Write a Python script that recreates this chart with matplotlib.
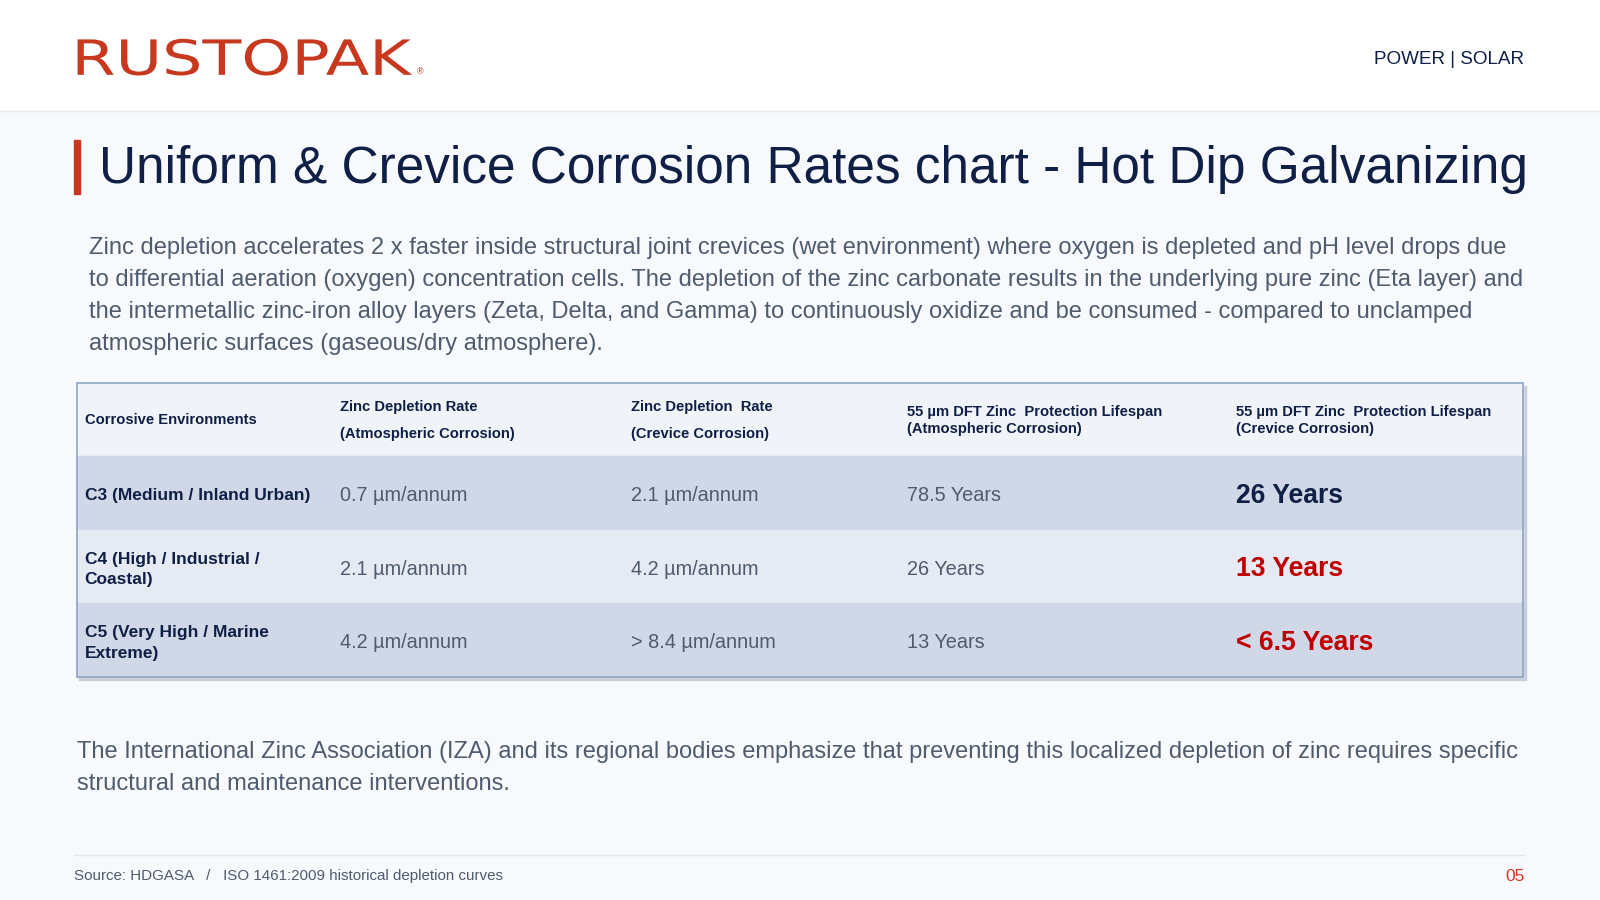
import matplotlib
matplotlib.use("Agg")
import matplotlib.pyplot as plt
from matplotlib.patches import Rectangle, PathPatch
from matplotlib.textpath import TextPath
from matplotlib.font_manager import FontProperties
from matplotlib.transforms import Affine2D

plt.rcParams["font.family"] = ["Liberation Sans", "DejaVu Sans"]

environments = ["C3 (Medium / Inland Urban)", "C4 (High / Industrial /\nCoastal)",
                "C5 (Very High / Marine\nExtreme)"]
atmos_rate = ["0.7 µm/annum", "2.1 µm/annum", "4.2 µm/annum"]
crevice_rate = ["2.1 µm/annum", "4.2 µm/annum", "> 8.4 µm/annum"]
atmos_life = ["78.5 Years", "26 Years", "13 Years"]
crevice_life = ["26 Years", "13 Years", "< 6.5 Years"]
crevice_colors = ["#0f1f45", "#c00000", "#c00000"]
headers = ["Corrosive Environments",
           "Zinc Depletion Rate\n(Atmospheric Corrosion)",
           "Zinc Depletion  Rate\n(Crevice Corrosion)",
           "55 µm DFT Zinc  Protection Lifespan\n(Atmospheric Corrosion)",
           "55 µm DFT Zinc  Protection Lifespan\n(Crevice Corrosion)"]
header_spacing = [1.3, 2.2, 2.2, 1.3, 1.3]

W, H = 1568, 882
S = 1600 / W
def fs(px):  # em size in source pixels -> points
    return px * S * 0.72

NAVY = "#0f1f45"
GREY = "#4f5b6e"
RED = "#c8381e"

fig = plt.figure(figsize=(16, 9), dpi=100)
ax = fig.add_axes([0, 0, 1, 1])
ax.set_xlim(0, W)
ax.set_ylim(H, 0)
ax.axis("off")
ax.add_patch(Rectangle((0, 0), W, H, color="#f7f9fc", zorder=0))
ax.add_patch(Rectangle((0, 0), W, 108, color="white", zorder=0))
ax.plot([0, W], [108.5, 108.5], color="#e6e9ef", lw=1)

# logo: stretched text path into box x 76..404, y 38..74
tp = TextPath((0, 0), "RUSTOPAK", size=10,
              prop=FontProperties(family="DejaVu Sans", weight="normal"))
ext = tp.get_extents()
sx = (404 - 76) / ext.width
sy = (74 - 38) / ext.height
tr = Affine2D().translate(-ext.x0, -ext.y0).scale(sx, -sy).translate(76, 74)
ax.add_patch(PathPatch(tr.transform_path(tp), color=RED, lw=0, zorder=3))
ax.text(409, 70, "®", color=RED, fontsize=fs(9), va="center")
ax.text(1494, 58, "POWER | SOLAR", color=NAVY, fontsize=fs(18.5), va="center", ha="right")

ax.add_patch(Rectangle((73, 137), 5, 53, color=RED))
ax.text(97, 166, "Uniform & Crevice Corrosion Rates chart - Hot Dip Galvanizing",
        color=NAVY, fontsize=fs(50.3), va="center")

para = ("Zinc depletion accelerates 2 x faster inside structural joint crevices (wet environment) where oxygen is depleted and pH level drops due\n"
        "to differential aeration (oxygen) concentration cells. The depletion of the zinc carbonate results in the underlying pure zinc (Eta layer) and\n"
        "the intermetallic zinc-iron alloy layers (Zeta, Delta, and Gamma) to continuously oxidize and be consumed - compared to unclamped\n"
        "atmospheric surfaces (gaseous/dry atmosphere).")
ax.text(87, 232, para, color=GREY, fontsize=fs(23.2), va="top", linespacing=1.6)

# table
cols = [75, 325, 610, 881, 1203, 1493]
rows = [375, 447, 519, 591, 663]
ax.add_patch(Rectangle((77, 378), 1418, 288, color="#c9ceda", zorder=1))
fills = ["#f0f3f8", "#d0d7e6", "#e6eaf3", "#d0d7e6"]
for i in range(4):
    ax.add_patch(Rectangle((cols[0], rows[i]), cols[-1] - cols[0], rows[i + 1] - rows[i],
                           color=fills[i], zorder=2))
ax.add_patch(Rectangle((cols[0], rows[0]), cols[-1] - cols[0], rows[-1] - rows[0],
                       fill=False, ec="#8ea3c4", lw=1.2, zorder=4))
for c in range(5):
    ax.text(cols[c] + 8, (rows[0] + rows[1]) / 2 + 1, headers[c], color=NAVY,
            fontsize=fs(14.5), fontweight="bold", va="center", zorder=5,
            linespacing=header_spacing[c])
for r in range(3):
    y = (rows[r + 1] + rows[r + 2]) / 2 + 3
    ax.text(cols[0] + 8, y, environments[r], color=NAVY, fontsize=fs(17),
            fontweight="bold", va="center", zorder=5, linespacing=1.45)
    ax.text(cols[1] + 8, y, atmos_rate[r], color=GREY, fontsize=fs(19.5), va="center", zorder=5)
    ax.text(cols[2] + 8, y, crevice_rate[r], color=GREY, fontsize=fs(19.5), va="center", zorder=5)
    ax.text(cols[3] + 8, y, atmos_life[r], color=GREY, fontsize=fs(19.5), va="center", zorder=5)
    ax.text(cols[4] + 8, y, crevice_life[r], color=crevice_colors[r], fontsize=fs(26),
            fontweight="bold", va="center", zorder=5)

foot = ("The International Zinc Association (IZA) and its regional bodies emphasize that preventing this localized depletion of zinc requires specific\n"
        "structural and maintenance interventions.")
ax.text(75, 726, foot, color=GREY, fontsize=fs(23.2), va="top", linespacing=1.6)

ax.plot([73, 1494], [838, 838], color="#e1e4ea", lw=1)
ax.text(73, 858, "Source: HDGASA   /   ISO 1461:2009 historical depletion curves",
        color=GREY, fontsize=fs(14.8), va="center")
ax.text(1494, 859, "05", color="#d9381e", fontsize=fs(17), va="center", ha="right")

fig.savefig("out.png", dpi=100)
